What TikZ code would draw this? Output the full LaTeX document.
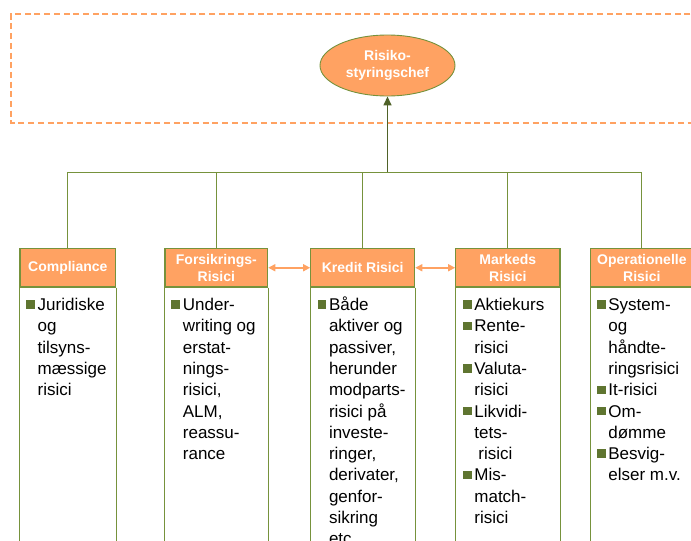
\documentclass[tikz,border=0pt]{standalone}
\usepackage{fontspec}
\setmainfont{Liberation Sans}
\usetikzlibrary{shapes.geometric,arrows.meta}
\definecolor{orng}{RGB}{255,162,98}
\definecolor{olive}{RGB}{118,146,60}
\definecolor{darkgr}{RGB}{79,98,40}
\definecolor{bul}{RGB}{95,117,48}
\newcommand{\bitem}[1]{\par\noindent\hangindent=11.5pt\hangafter=1\makebox[11.5pt][l]{\textcolor{bul}{\rule[1.6pt]{8.6pt}{8.6pt}}}#1}
\newcommand{\bodytext}[1]{\vtop{\hsize=100pt\fontsize{17}{21.3}\selectfont\parindent=0pt\parskip=0pt #1\par}}
\begin{document}
\begin{tikzpicture}[x=1pt,y=-1pt,
  hdr/.style={draw=olive,line width=1.1pt,fill=orng,text=white,inner sep=0pt,
    minimum height=38.5pt,align=center,font=\fontsize{14}{17.5}\selectfont\bfseries},
  bodybox/.style={draw=olive,line width=1.1pt},
  conn/.style={draw=olive,line width=1pt},
  bodytxt/.style={anchor=base west,inner sep=0pt},
  dbl/.style={draw=orng,line width=1.5pt,{Triangle[length=7pt,width=7pt]}-{Triangle[length=7pt,width=7pt]}},
  mainarr/.style={draw=darkgr,line width=1.5pt,-{Triangle[length=9pt,width=8pt]}}]
\useasboundingbox (0,0) rectangle (691,541);
% dashed frame
\draw[orng,line width=1.7pt,dash pattern=on 6pt off 3.7pt] (700,14) -- (11,14) -- (11,122.7) -- (700,122.7);
% top ellipse
\node[ellipse,draw=olive,line width=0.9pt,fill=orng,text=white,inner sep=0pt,
  minimum width=135pt,minimum height=61pt,align=center,
  font=\fontsize{14}{17.6}\selectfont\bfseries] (chef) at (387.5,65.5) {Risiko-\\styringschef};
% headers
\node[hdr,minimum width=95.7pt] (h1) at (67.85,267.75) {Compliance};
\node[hdr,minimum width=102.7pt] (h2) at (216.35,267.75) {Forsikrings-\\Risici};
\node[hdr,minimum width=104pt] (h3) at (362.7,267.75) {Kredit Risici};
\node[hdr,minimum width=104.3pt] (h4) at (507.85,267.75) {Markeds\\Risici};
\node[hdr,minimum width=102.3pt] (h5) at (641.85,267.75) {Operationelle\\Risici};
% body boxes
\foreach \h in {h1,h2,h3,h4,h5}{
  \draw[bodybox] (\h.south west) -- ++(0,300);
  \draw[bodybox] (\h.south east) -- ++(0,300);
}
% connectors
\coordinate (bus) at (387.5,172.3);
\draw[conn] (h1.north) |- (bus) -| (h5.north);
\draw[conn] (h2.north) -- (h2.north |- bus);
\draw[conn] (h3.north) -- (h3.north |- bus);
\draw[conn] (h4.north) -- (h4.north |- bus);
\draw[mainarr] (bus) -- (chef.south);
\draw[dbl] (h2.east) -- (h3.west);
\draw[dbl] (h3.east) -- (h4.west);
% body texts
\node[bodytxt] (b1) at (26,310.5) {\bodytext{\bitem{Juridiske\\og\\tilsyns-\\mæssige\\risici}}};
\node[bodytxt] (b2) at (171.2,310.5) {\bodytext{\bitem{Under-\\writing og\\erstat-\\nings-\\risici,\\ALM,\\reassu-\\rance}}};
\node[bodytxt] (b3) at (317.3,310.5) {\bodytext{\bitem{Både\\aktiver og\\passiver,\\herunder\\modparts-\\risici på\\investe-\\ringer,\\derivater,\\genfor-\\sikring\\etc.}}};
\node[bodytxt] (b4) at (462.7,310.5) {\bodytext{\bitem{Aktiekurs}\bitem{Rente-\\risici}\bitem{Valuta-\\risici}\bitem{Likvidi-\\tets-\\\hspace*{4pt}risici}\bitem{Mis-\\match-\\risici}}};
\node[bodytxt] (b5) at (596.7,310.5) {\bodytext{\bitem{System-\\og\\håndte-\\ringsrisici}\bitem{It-risici}\bitem{Om-\\dømme}\bitem{Besvig-\\elser m.v.}}};
\end{tikzpicture}
\end{document}
